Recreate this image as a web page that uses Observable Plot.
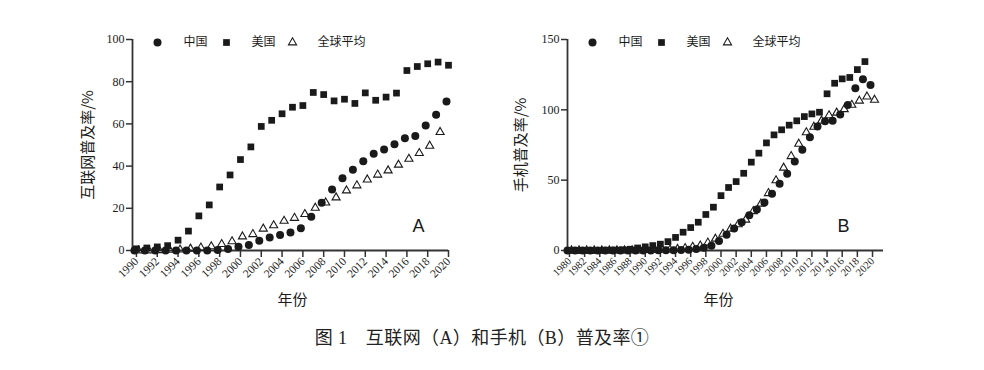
<!DOCTYPE html>
<html><head><meta charset="utf-8">
<script src="https://cdn.jsdelivr.net/npm/d3@7"></script>
<script src="https://cdn.jsdelivr.net/npm/@observablehq/plot@0.6"></script>
<style>
body{margin:0;background:#fff;}
#wrap{position:relative;width:984px;height:370px;background:#fff;font-family:"Liberation Serif","Noto Sans CJK SC",serif;}
.panel{position:absolute;top:0;}
#caption{position:absolute;top:326px;left:0;width:964px;text-align:center;font-size:18px;line-height:24px;color:#222;font-family:"Liberation Serif","Noto Sans CJK SC",serif;letter-spacing:0.4px;}
</style></head><body>
<div id="wrap">
<div id="left" class="panel" style="left:0"></div>
<div id="right" class="panel" style="left:492px"></div>
<div id="caption">图 1　互联网（A）和手机（B）普及率①</div>
</div>
<script>
// ---- Panel A: internet penetration (%) ----
const netYears = [1990,1991,1992,1993,1994,1995,1996,1997,1998,1999,2000,2001,2002,2003,2004,2005,2006,2007,2008,2009,2010,2011,2012,2013,2014,2015,2016,2017,2018,2019,2020];
const netChina = [0,0,0,0,0,0,0,0,0.2,0.7,1.8,2.6,4.6,6.2,7.3,8.5,10.5,16.0,22.6,28.9,34.3,38.3,42.3,45.8,47.9,50.3,53.2,54.3,59.2,64.3,70.6];
const netUS = [0.8,1.2,1.7,2.3,4.9,9.2,16.4,21.6,30.1,35.8,43.1,49.1,58.8,61.7,64.8,67.9,68.7,74.9,73.9,70.9,71.7,69.7,74.7,71.2,72.7,74.6,85.3,87.2,88.5,89.3,87.8];
const netWorld = [0,0,0.1,0.3,0.4,0.8,1.3,1.9,3.0,4.3,6.6,7.7,10.3,11.9,14.0,15.4,17.2,20.2,22.7,25.1,28.4,30.8,33.6,35.9,37.9,40.6,43.4,46.1,49.6,56.1,null];
const netXTicks = [1990,1992,1994,1996,1998,2000,2002,2004,2006,2008,2010,2012,2014,2016,2018,2020];
const netYTicks = [0,20,40,60,80,100];

// ---- Panel B: mobile phone penetration (%) ----
const mobYears = [1980,1981,1982,1983,1984,1985,1986,1987,1988,1989,1990,1991,1992,1993,1994,1995,1996,1997,1998,1999,2000,2001,2002,2003,2004,2005,2006,2007,2008,2009,2010,2011,2012,2013,2014,2015,2016,2017,2018,2019,2020];
const mobChina = [0,0,0,0,0,0,0,0,0,0,0,0,0.1,0.1,0.1,0.3,0.6,1.1,1.9,3.4,6.7,11.2,15.6,20.1,25.1,29.1,34.1,40.3,47.4,54.5,63.2,71.6,80.5,88.1,91.9,92.2,96.7,103.5,115.4,121.8,117.7];
const mobUS = [0,0,0,0,0.1,0.2,0.3,0.5,0.9,1.8,2.6,3.5,4.5,6.3,9.3,13.0,16.3,20.1,25.6,30.8,39.0,44.8,49.0,54.9,62.8,69.2,76.5,82.2,85.8,89.1,92.2,95.2,97.1,98.3,111.4,118.9,122.0,123.0,128.6,134.3,null];
const mobWorld = [0,0,0,0,0,0,0,0,0,0,0.2,0.3,0.4,0.6,1.0,1.6,2.5,3.4,5.5,8.3,11.8,15.4,18.5,21.8,27.9,33.2,40.7,49.8,58.8,67.0,75.8,83.9,87.9,92.2,96.0,97.9,100.4,103.5,106.4,109.4,107.1];
const mobXTicks = [1980,1982,1984,1986,1988,1990,1992,1994,1996,1998,2000,2002,2004,2006,2008,2010,2012,2014,2016,2018,2020];
const mobYTicks = [0,50,100,150];

const legendNames = ["中国","美国","全球平均"];
const SERIF = '"Liberation Serif","Noto Sans CJK SC",serif';
const CJK = '"Noto Sans CJK SC",sans-serif';
const INK = "#1a1a1a";

function rows(years, vals){ return years.map((y,i)=>({year:y, v:vals[i]})).filter(d=>d.v!=null); }

function panel(o){
  return Plot.plot({
    width:492, height:318,
    marginLeft:o.ml, marginRight:o.mr, marginTop:39, marginBottom:68,
    x:{domain:o.xDomain},
    y:{domain:o.yDomain},
    style:{fontFamily:SERIF, fontSize:"12px", color:INK, background:"transparent", overflow:"visible"},
    marks:[
      Plot.axisY({ticks:o.yTicks, tickSize:6, tickPadding:2, fontSize:12, label:null, stroke:"#333", strokeWidth:1.5}),
      Plot.axisX({ticks:o.xTicks, tickSize:7, tickPadding:2, tickRotate:-45, tickFormat:d=>String(d), fontSize:o.xFont, label:null, stroke:"#333", strokeWidth:1.5}),
      Plot.ruleY([o.yDomain[0]], {stroke:"#333", strokeWidth:1.8}),
      Plot.ruleX([o.xDomain[0]], {stroke:"#333", strokeWidth:1.8}),
      Plot.dot(rows(o.years, o.china), {x:"year", y:"v", r:4, fill:INK, stroke:null, symbol:"circle", dx:-2}),
      Plot.dot(rows(o.years, o.us), {x:"year", y:"v", r:3.8, fill:INK, stroke:null, symbol:"square"}),
      Plot.dot(rows(o.years, o.world), {x:"year", y:"v", r:3, fill:"none", stroke:INK, strokeWidth:1.1, symbol:"triangle", dx:2}),
      // axis titles
      Plot.text([o.yLabel], {text:d=>d, frameAnchor:"left", dx:o.ylDx, rotate:-90, textAnchor:"middle", lineAnchor:"middle", fontSize:15, fontFamily:CJK, fill:INK}),
      Plot.text(["年份"], {text:d=>d, frameAnchor:"bottom", dx:o.xlDx, dy:50, textAnchor:"middle", lineAnchor:"middle", fontSize:15, fontFamily:CJK, fill:INK}),
      // panel letter
      Plot.text([o.letter], {text:d=>d, frameAnchor:"bottom-right", dx:o.letDx, dy:-24, textAnchor:"middle", lineAnchor:"middle", fontSize:18, fontFamily:'"Liberation Sans",Arial,sans-serif', fill:INK}),
      // legend
      Plot.dot([0], {frameAnchor:"top-left", dx:25, dy:3, r:4, fill:INK, symbol:"circle"}),
      Plot.text([legendNames[0]], {text:d=>d, frameAnchor:"top-left", dx:51, dy:3, textAnchor:"start", lineAnchor:"middle", fontSize:12, fontFamily:CJK, fill:INK}),
      Plot.dot([0], {frameAnchor:"top-left", dx:94, dy:3, r:3.8, fill:INK, symbol:"square"}),
      Plot.text([legendNames[1]], {text:d=>d, frameAnchor:"top-left", dx:119, dy:3, textAnchor:"start", lineAnchor:"middle", fontSize:12, fontFamily:CJK, fill:INK}),
      Plot.dot([0], {frameAnchor:"top-left", dx:160, dy:3, r:3, fill:"none", stroke:INK, strokeWidth:1.1, symbol:"triangle"}),
      Plot.text([legendNames[2]], {text:d=>d, frameAnchor:"top-left", dx:185, dy:3, textAnchor:"start", lineAnchor:"middle", fontSize:12, fontFamily:CJK, fill:INK})
    ]
  });
}

document.getElementById("left").appendChild(panel({
  years:netYears, china:netChina, us:netUS, world:netWorld,
  xDomain:[1989.62, 2020.0], yDomain:[0,100], xTicks:netXTicks, yTicks:netYTicks, xFont:11.5,
  ml:132, mr:44, yLabel:"互联网普及率/%", ylDx:-44, xlDx:2, letter:"A", letDx:-30
}));
document.getElementById("right").appendChild(panel({
  years:mobYears, china:mobChina, us:mobUS, world:mobWorld,
  xDomain:[1979.74, 2021.45], yDomain:[0,150], xTicks:mobXTicks, yTicks:mobYTicks, xFont:10.5,
  ml:75, mr:101, yLabel:"手机普及率/%", ylDx:-46, xlDx:-7, letter:"B", letDx:-40
}));
</script>
</body></html>
